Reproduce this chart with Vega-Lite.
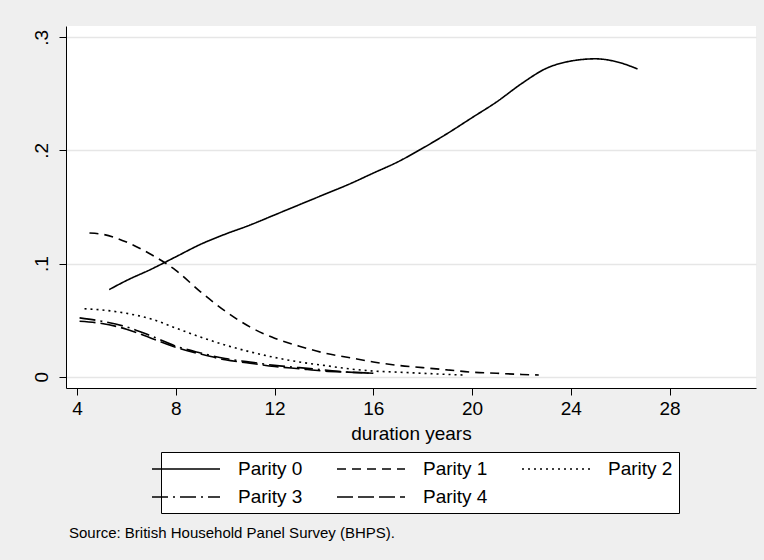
{
  "$schema": "https://vega.github.io/schema/vega-lite/v6.json",
  "width": 690,
  "height": 362,
  "autosize": {"type": "none"},
  "padding": {"left": 66, "top": 26, "right": 8, "bottom": 172},
  "background": "#efefef",
  "title": {"text": "Source: British Household Panel Survey (BHPS).", "orient": "bottom", "anchor": "start", "frame": "group", "fontSize": 15, "fontWeight": "normal", "font": "Liberation Sans", "color": "black", "offset": 12, "dx": 3},
  "config": {
    "font": "Liberation Sans",
    "view": {"fill": "white", "stroke": null},
    "legend": {
      "orient": "none", "legendX": 95, "legendY": 426, "direction": "horizontal", "columns": 3,
      "symbolType": "M-2.6,0H4.2", "symbolSize": 400, "symbolStrokeWidth": 1.5, "symbolStrokeColor": "black",
      "labelFontSize": 19, "labelColor": "black", "labelOffset": 49, "columnPadding": 31, "rowPadding": 7,
      "padding": 6, "fillColor": "white", "strokeColor": "black", "gridAlign": "all", "labelLimit": 200
    }
  },
  "data": {"values": [
    {"parity": "Parity 0", "duration": 5.3, "hazard": 0.077},
    {"parity": "Parity 0", "duration": 6, "hazard": 0.085},
    {"parity": "Parity 0", "duration": 7, "hazard": 0.095},
    {"parity": "Parity 0", "duration": 8, "hazard": 0.106},
    {"parity": "Parity 0", "duration": 9, "hazard": 0.117},
    {"parity": "Parity 0", "duration": 10, "hazard": 0.126},
    {"parity": "Parity 0", "duration": 11, "hazard": 0.134},
    {"parity": "Parity 0", "duration": 12, "hazard": 0.143},
    {"parity": "Parity 0", "duration": 13, "hazard": 0.152},
    {"parity": "Parity 0", "duration": 14, "hazard": 0.161},
    {"parity": "Parity 0", "duration": 15, "hazard": 0.170},
    {"parity": "Parity 0", "duration": 16, "hazard": 0.180},
    {"parity": "Parity 0", "duration": 17, "hazard": 0.190},
    {"parity": "Parity 0", "duration": 18, "hazard": 0.202},
    {"parity": "Parity 0", "duration": 19, "hazard": 0.215},
    {"parity": "Parity 0", "duration": 20, "hazard": 0.229},
    {"parity": "Parity 0", "duration": 21, "hazard": 0.243},
    {"parity": "Parity 0", "duration": 22, "hazard": 0.259},
    {"parity": "Parity 0", "duration": 23, "hazard": 0.2725},
    {"parity": "Parity 0", "duration": 24, "hazard": 0.279},
    {"parity": "Parity 0", "duration": 25, "hazard": 0.281},
    {"parity": "Parity 0", "duration": 26, "hazard": 0.2775},
    {"parity": "Parity 0", "duration": 26.7, "hazard": 0.272},
    {"parity": "Parity 1", "duration": 4.5, "hazard": 0.127},
    {"parity": "Parity 1", "duration": 5, "hazard": 0.126},
    {"parity": "Parity 1", "duration": 6, "hazard": 0.119},
    {"parity": "Parity 1", "duration": 7, "hazard": 0.108},
    {"parity": "Parity 1", "duration": 8, "hazard": 0.094},
    {"parity": "Parity 1", "duration": 9, "hazard": 0.075},
    {"parity": "Parity 1", "duration": 10, "hazard": 0.058},
    {"parity": "Parity 1", "duration": 11, "hazard": 0.044},
    {"parity": "Parity 1", "duration": 12, "hazard": 0.034},
    {"parity": "Parity 1", "duration": 13, "hazard": 0.027},
    {"parity": "Parity 1", "duration": 14, "hazard": 0.021},
    {"parity": "Parity 1", "duration": 15, "hazard": 0.017},
    {"parity": "Parity 1", "duration": 16, "hazard": 0.013},
    {"parity": "Parity 1", "duration": 17, "hazard": 0.010},
    {"parity": "Parity 1", "duration": 18, "hazard": 0.008},
    {"parity": "Parity 1", "duration": 19, "hazard": 0.006},
    {"parity": "Parity 1", "duration": 20, "hazard": 0.004},
    {"parity": "Parity 1", "duration": 21, "hazard": 0.003},
    {"parity": "Parity 1", "duration": 22, "hazard": 0.002},
    {"parity": "Parity 1", "duration": 22.7, "hazard": 0.0015},
    {"parity": "Parity 2", "duration": 4.3, "hazard": 0.060},
    {"parity": "Parity 2", "duration": 5, "hazard": 0.059},
    {"parity": "Parity 2", "duration": 6, "hazard": 0.056},
    {"parity": "Parity 2", "duration": 7, "hazard": 0.051},
    {"parity": "Parity 2", "duration": 8, "hazard": 0.043},
    {"parity": "Parity 2", "duration": 9, "hazard": 0.035},
    {"parity": "Parity 2", "duration": 10, "hazard": 0.028},
    {"parity": "Parity 2", "duration": 11, "hazard": 0.022},
    {"parity": "Parity 2", "duration": 12, "hazard": 0.017},
    {"parity": "Parity 2", "duration": 13, "hazard": 0.013},
    {"parity": "Parity 2", "duration": 14, "hazard": 0.010},
    {"parity": "Parity 2", "duration": 15, "hazard": 0.007},
    {"parity": "Parity 2", "duration": 16, "hazard": 0.005},
    {"parity": "Parity 2", "duration": 17, "hazard": 0.004},
    {"parity": "Parity 2", "duration": 18, "hazard": 0.003},
    {"parity": "Parity 2", "duration": 19, "hazard": 0.002},
    {"parity": "Parity 2", "duration": 19.7, "hazard": 0.0015},
    {"parity": "Parity 3", "duration": 4.1, "hazard": 0.052},
    {"parity": "Parity 3", "duration": 5, "hazard": 0.049},
    {"parity": "Parity 3", "duration": 6, "hazard": 0.044},
    {"parity": "Parity 3", "duration": 7, "hazard": 0.036},
    {"parity": "Parity 3", "duration": 8, "hazard": 0.027},
    {"parity": "Parity 3", "duration": 9, "hazard": 0.021},
    {"parity": "Parity 3", "duration": 10, "hazard": 0.016},
    {"parity": "Parity 3", "duration": 11, "hazard": 0.013},
    {"parity": "Parity 3", "duration": 12, "hazard": 0.010},
    {"parity": "Parity 3", "duration": 13, "hazard": 0.008},
    {"parity": "Parity 3", "duration": 14, "hazard": 0.006},
    {"parity": "Parity 3", "duration": 15, "hazard": 0.004},
    {"parity": "Parity 3", "duration": 16, "hazard": 0.003},
    {"parity": "Parity 4", "duration": 4.1, "hazard": 0.049},
    {"parity": "Parity 4", "duration": 5, "hazard": 0.047},
    {"parity": "Parity 4", "duration": 6, "hazard": 0.042},
    {"parity": "Parity 4", "duration": 7, "hazard": 0.034},
    {"parity": "Parity 4", "duration": 8, "hazard": 0.026},
    {"parity": "Parity 4", "duration": 9, "hazard": 0.020},
    {"parity": "Parity 4", "duration": 10, "hazard": 0.015},
    {"parity": "Parity 4", "duration": 11, "hazard": 0.012},
    {"parity": "Parity 4", "duration": 12, "hazard": 0.009},
    {"parity": "Parity 4", "duration": 13, "hazard": 0.007},
    {"parity": "Parity 4", "duration": 14, "hazard": 0.005},
    {"parity": "Parity 4", "duration": 15, "hazard": 0.004},
    {"parity": "Parity 4", "duration": 16, "hazard": 0.003}
  ]},
  "mark": {"type": "line", "color": "black", "strokeWidth": 1.6, "interpolate": "monotone"},
  "encoding": {
    "x": {
      "field": "duration", "type": "quantitative",
      "scale": {"domain": [3.55, 31.5], "nice": false, "zero": false},
      "axis": {
        "title": "duration years", "values": [4, 8, 12, 16, 20, 24, 28], "grid": false,
        "domainColor": "black", "domainWidth": 1, "tickColor": "black", "tickSize": 7, "tickWidth": 1,
        "labelFontSize": 19, "labelColor": "black", "labelPadding": 4, "labelFlush": false,
        "titleFontSize": 19, "titleColor": "black", "titleFontWeight": "normal", "titlePadding": 6
      }
    },
    "y": {
      "field": "hazard", "type": "quantitative",
      "scale": {"domain": [-0.01, 0.31], "nice": false, "zero": false},
      "axis": {
        "title": null, "values": [0, 0.1, 0.2, 0.3],
        "labelExpr": "datum.value == 0 ? '0' : replace(format(datum.value, '.1f'), '0.', '.')",
        "grid": true, "gridColor": "#e6e6e6", "gridWidth": 1.5,
        "domainColor": "black", "domainWidth": 1, "tickColor": "black", "tickSize": 7, "tickWidth": 1,
        "labelFontSize": 19, "labelColor": "black", "labelAngle": -90, "labelAlign": "center", "labelBaseline": "bottom", "labelPadding": 8, "labelFlush": false
      }
    },
    "strokeDash": {
      "field": "parity", "type": "nominal", "title": null,
      "scale": {"domain": ["Parity 0", "Parity 1", "Parity 2", "Parity 3", "Parity 4"], "range": [[1, 0], [9, 6], [2, 4], [16, 5, 2, 5], [16, 5]]}
    }
  }
}
